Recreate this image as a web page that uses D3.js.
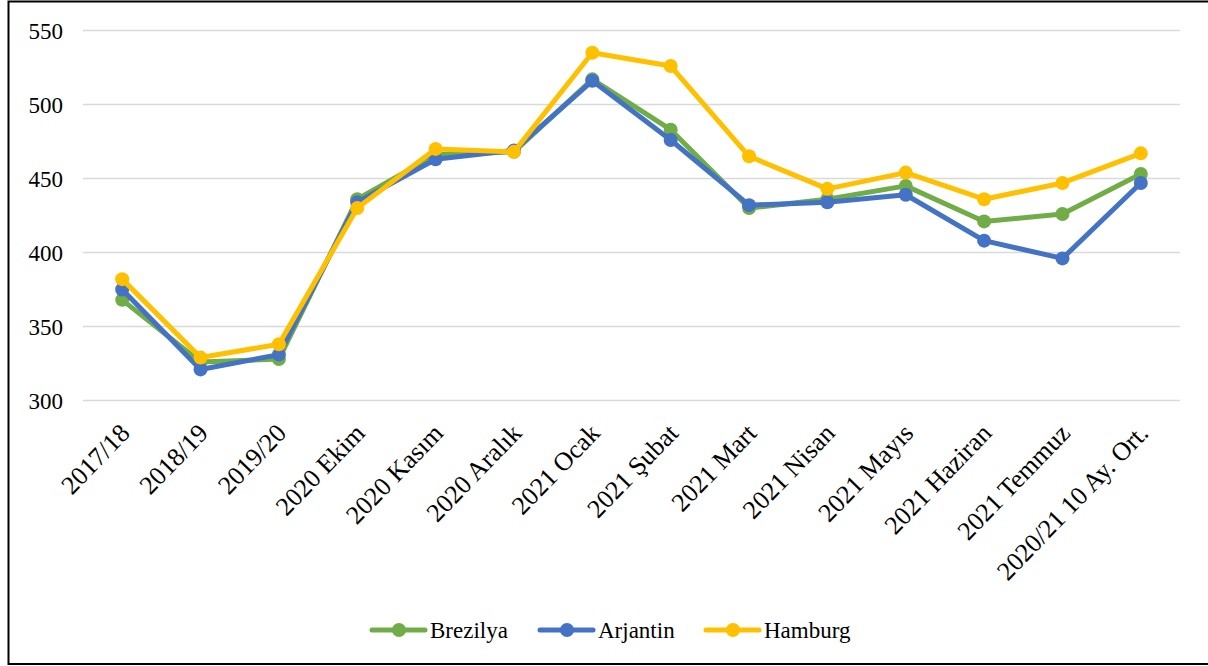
<!DOCTYPE html>
<html><head><meta charset="utf-8">
<script src="https://cdn.jsdelivr.net/npm/d3@7"></script>
<style>body{margin:0;background:#fff}svg{display:block}</style>
</head><body>
<svg id="c" width="1208" height="666"></svg>
<script>
const categories = ["2017/18","2018/19","2019/20","2020 Ekim","2020 Kasım","2020 Aralık","2021 Ocak","2021 Şubat","2021 Mart","2021 Nisan","2021 Mayıs","2021 Haziran","2021 Temmuz","2020/21 10 Ay. Ort."];
const brezilya = [368,326,328,436,466,468,517,483,430,436,445,421,426,453];
const arjantin = [375,321,331,434,463,469,516,476,432,434,439,408,396,447];
const hamburg  = [382,329,338,430,470,468,535,526,465,443,454,436,447,467];
const yTicks = [300,350,400,450,500,550];
const seriesNames = ["Brezilya","Arjantin","Hamburg"];
const seriesColors = ["#70ad47","#4472c4","#ffc000"];

const svg = d3.select("#c");
const font = "'Liberation Serif','Times New Roman',serif";
svg.append("rect").attr("x",8.5).attr("y",1.5).attr("width",1210).attr("height",662.5)
  .attr("fill","#fff").attr("stroke","#000").attr("stroke-width",2);

const x = d3.scaleBand().domain(categories).range([83,1180]);
const y = d3.scaleLinear().domain([300,550]).range([400.5,30.5]);

const g = svg.append("g");
g.selectAll("line.grid").data(yTicks).join("line")
  .attr("x1",83).attr("x2",1180).attr("y1",d=>y(d)).attr("y2",d=>y(d))
  .attr("stroke","#d9d9d9").attr("stroke-width",1.5);

const yAxis = d3.axisLeft(y).tickValues(yTicks).tickSize(0).tickPadding(0);
const ya = svg.append("g").attr("transform","translate(63,0)").call(yAxis);
ya.select(".domain").remove();
ya.selectAll("text").attr("font-family",font).attr("font-size",23).attr("fill","#000").attr("dy","0.33em");

const xAxis = d3.axisBottom(x).tickSize(0).tickPadding(0);
const xa = svg.append("g").attr("transform","translate(0,400.5)").call(xAxis);
xa.select(".domain").remove();
xa.selectAll("text").attr("font-family",font).attr("font-size",26).attr("fill","#000")
  .attr("text-anchor","end").attr("dy",0).attr("y",0)
  .attr("transform","translate(9,34) rotate(-46)");

const all = [brezilya,arjantin,hamburg];
const line = d3.line().x((d,i)=>x(categories[i])+x.bandwidth()/2).y(d=>y(d));
all.forEach((vals,k)=>{
  const sg = svg.append("g");
  sg.append("path").datum(vals).attr("d",line).attr("fill","none")
    .attr("stroke",seriesColors[k]).attr("stroke-width",5).attr("stroke-linejoin","round");
  sg.selectAll("circle").data(vals).join("circle")
    .attr("cx",(d,i)=>x(categories[i])+x.bandwidth()/2).attr("cy",d=>y(d)).attr("r",7)
    .attr("fill",seriesColors[k]);
});

const legX = [370,538,704];
seriesNames.forEach((n,k)=>{
  const lg = svg.append("g").attr("transform",`translate(${legX[k]},630)`);
  lg.append("line").attr("x1",2).attr("x2",55).attr("stroke",seriesColors[k]).attr("stroke-width",5).attr("stroke-linecap","round");
  lg.append("circle").attr("cx",29).attr("r",7).attr("fill",seriesColors[k]);
  lg.append("text").attr("x",60).attr("dy","0.35em").attr("font-family",font).attr("font-size",23).attr("fill","#000").text(n);
});
</script>
</body></html>
